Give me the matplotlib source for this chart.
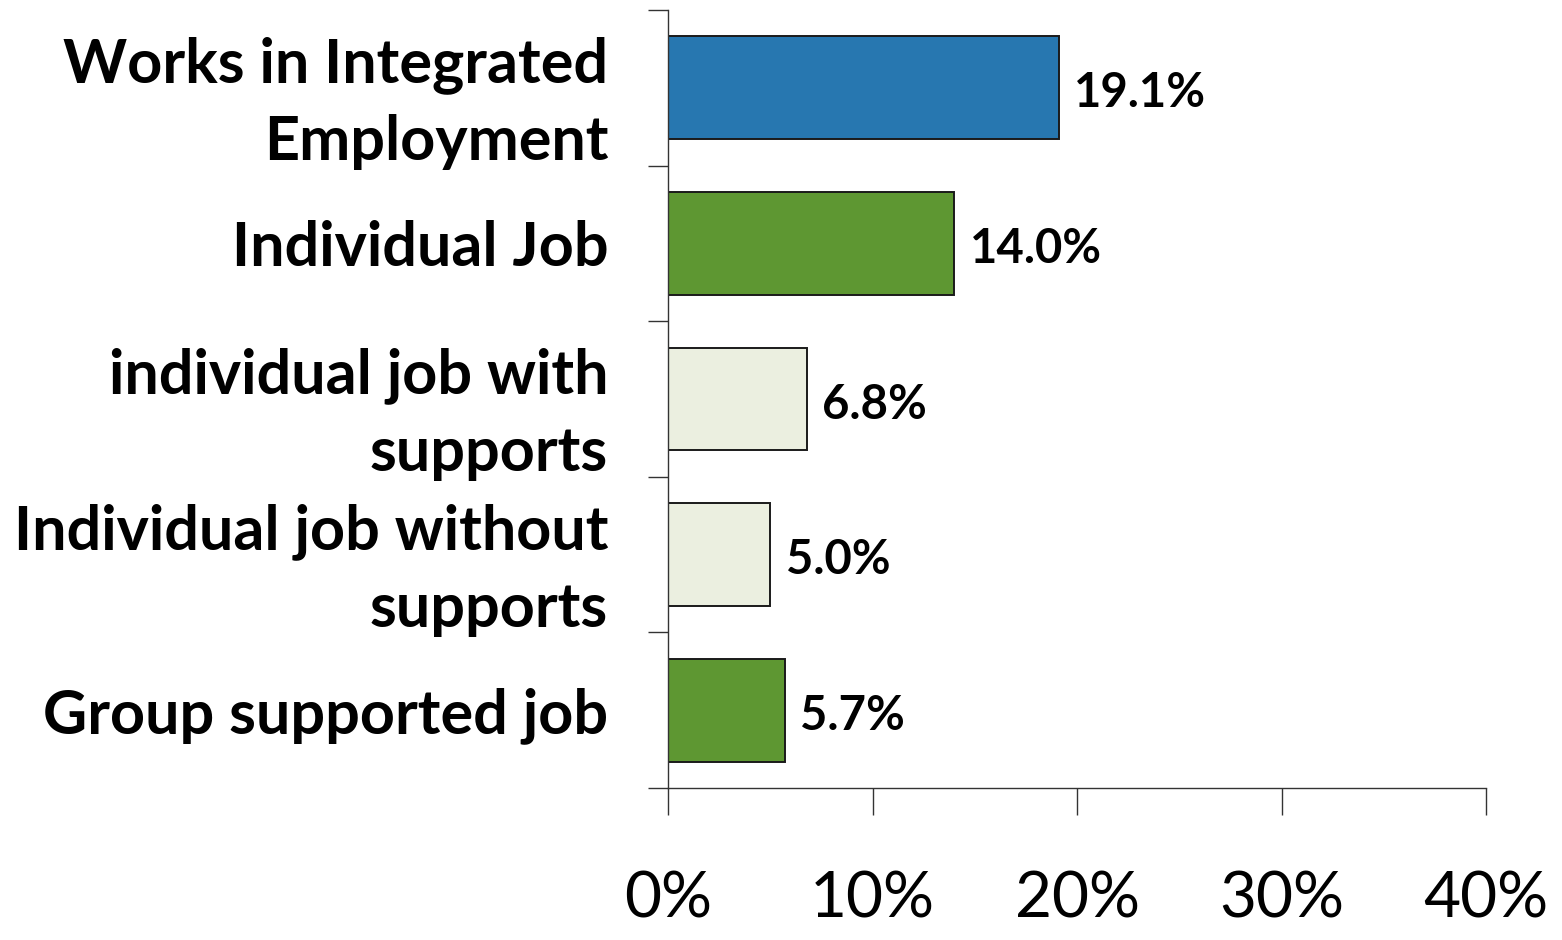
import matplotlib
matplotlib.use("Agg")
import matplotlib.pyplot as plt
import numpy as np

categories = ["Works in Integrated\nEmployment", "Individual Job",
              "individual job with\nsupports", "Individual job without\nsupports",
              "Group supported job"]
values = [19.1, 14.0, 6.8, 5.0, 5.7]
value_labels = ["19.1%", "14.0%", "6.8%", "5.0%", "5.7%"]
bar_colors = ["#2777B0", "#5E9732", "#EBEFE0", "#EBEFE0", "#5E9732"]
xticks = [0, 10, 20, 30, 40]
xtick_labels = ["0%", "10%", "20%", "30%", "40%"]

plt.rcParams['font.family'] = ['Lato', 'DejaVu Sans']

fig = plt.figure(figsize=(15.62, 9.40), dpi=100)
ax = fig.add_axes([668/1562, 1-788/940, (1486-668)/1562, (788-10)/940])

y = np.arange(len(categories))
ax.barh(y, values, height=0.66, color=bar_colors, edgecolor="#1a1a1a", linewidth=1.4)
for yi, v, lab in zip(y, values, value_labels):
    ax.annotate(lab, (v, yi), xytext=(11, -4), textcoords="offset points",
                ha="left", va="center", fontsize=34, fontweight="bold", color="black")

ax.set_ylim(len(categories)-0.5, -0.5)
ax.set_xlim(0, 40)
ax.set_yticks(y)
ax.set_yticklabels(categories, fontsize=44, fontweight="bold", ha="right",
                   linespacing=1.45)
ax.set_yticks(np.arange(-0.5, len(categories)), minor=True)
ax.tick_params(axis="y", which="major", length=0, pad=43)
ax.tick_params(axis="y", which="minor", length=14.4, width=1.0, color="#333333")
ax.set_xticks(xticks)
ax.set_xticklabels(xtick_labels, fontsize=46)
ax.tick_params(axis="x", length=19.5, width=1.0, color="#333333", pad=40)

for s in ["top", "right"]:
    ax.spines[s].set_visible(False)
for s in ["left", "bottom"]:
    ax.spines[s].set_color("#333333")
    ax.spines[s].set_linewidth(1.0)

fig.savefig("out.png", dpi=100)
